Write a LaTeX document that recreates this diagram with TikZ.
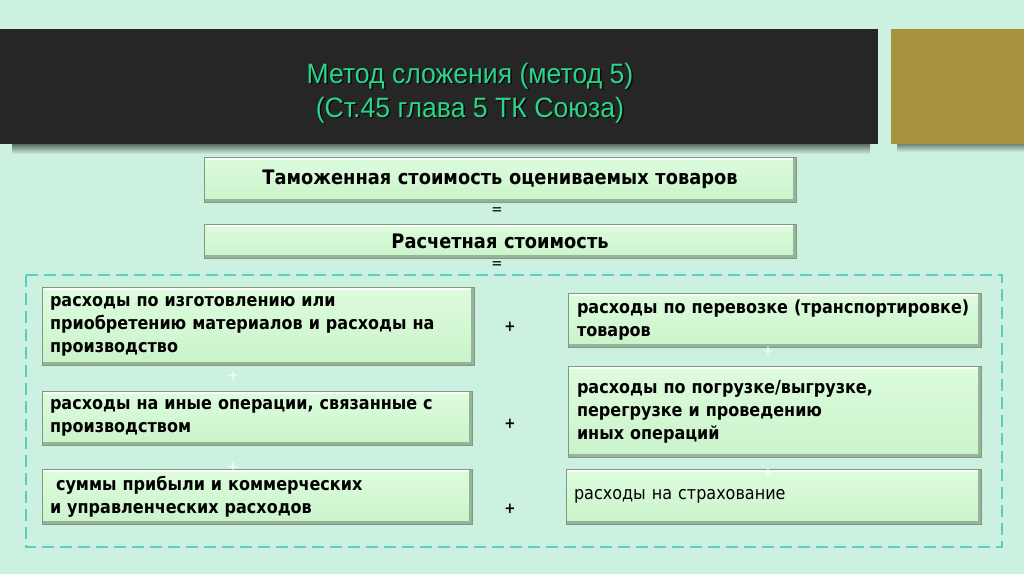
\documentclass[tikz,border=0pt]{standalone}
\usepackage{fontspec}
\newfontfamily\titlefont[FakeStretch=0.95]{Liberation Sans}
\newfontfamily\boxfont[FakeStretch=0.89]{DejaVu Sans}
\definecolor{bg}{HTML}{CDF1E1}
\definecolor{barblack}{HTML}{262626}
\definecolor{gold}{HTML}{A8913C}
\definecolor{titlegreen}{HTML}{2AD488}
\definecolor{boxtop}{HTML}{DDFCDD}
\definecolor{boxbot}{HTML}{CAF3CA}
\definecolor{boxedge}{HTML}{7E9A80}
\definecolor{boxshade}{HTML}{98B399}
\definecolor{frameteal}{HTML}{5ECDBD}
\tikzset{
  greenbox/.style={draw=boxedge, line width=1pt, top color=boxtop, bottom color=boxbot,
    inner xsep=8pt, inner ysep=0pt, align=left, font=\boxfont\bfseries\fontsize{18}{23}\selectfont,
    path picture={
      \draw[white, line width=2pt, opacity=0.9]
        ([yshift=-1.5pt]path picture bounding box.north west) -- ([yshift=-1.5pt]path picture bounding box.north east);
      \draw[boxshade, line width=3pt]
        ([xshift=-1.5pt]path picture bounding box.north east) -- ([xshift=-1.5pt]path picture bounding box.south east);
      \draw[boxshade, line width=3pt]
        ([yshift=1.5pt]path picture bounding box.south west) -- ([yshift=1.5pt]path picture bounding box.south east);
    }},
  sign/.style={font=\boxfont\bfseries\fontsize{15}{15}\selectfont, inner sep=0pt},
  faint/.style={font=\boxfont\bfseries\fontsize{14}{14}\selectfont, inner sep=0pt, text=white, text opacity=0.7},
  titletext/.style={font=\titlefont\fontsize{28}{34}\selectfont, inner sep=0pt, anchor=base},
  topfont/.style={font=\boxfont\bfseries\fontsize{20}{24}\selectfont}
}
\begin{document}
\begin{tikzpicture}[x=1pt,y=-1pt]
  \fill[bg] (0,0) rectangle (1024,574);
  \useasboundingbox (0,0) rectangle (1024,574);
  % title bar shadows
  \shade[top color=black!55!bg, bottom color=bg] (12,144) rectangle (870,154);
  \shade[top color=black!45!bg, bottom color=bg] (897,144) rectangle (1024,152);
  % title bar
  \fill[barblack] (0,29) rectangle (878,144);
  \fill[gold] (891,29) rectangle (1024,144);
  \node[titletext, text=black, text opacity=0.8] (t1s) at (471.5,84.5) {Метод сложения (метод 5)};
  \node[titletext, text=black, text opacity=0.8] (t2s) at (471.5,118.5) {(Ст.45 глава 5 ТК Союза)};
  \node[titletext, text=titlegreen] (t1) at (470,83) {Метод сложения (метод 5)};
  \node[titletext, text=titlegreen] (t2) at (470,117) {(Ст.45 глава 5 ТК Союза)};
  % top boxes
  \node[greenbox, topfont, align=center, minimum width=592pt, minimum height=45pt, text width=576pt] (tv) at (500,179.5)
        {Таможенная стоимость оцениваемых товаров};
  \node[sign, font=\boxfont\fontsize{15}{15}\selectfont] (eq1) at (497,211) {=};
  \node[greenbox, topfont, align=center, minimum width=592pt, minimum height=34pt, text width=576pt] (rs) at (500,241)
        {Расчетная стоимость};
  \node[sign, font=\boxfont\fontsize{15}{15}\selectfont] (eq2) at (497,265) {=};
  % dashed frame
  \draw[frameteal, line width=2.5pt, dash pattern=on 12pt off 6pt] (26,275) rectangle (1002,547);
  % left boxes
  \node[greenbox, minimum width=432pt, minimum height=78pt, text width=416pt] (l1) at (258,326)
    {расходы по изготовлению или\\приобретению материалов и расходы на\\производство};
  \node[greenbox, minimum width=430pt, minimum height=54pt, text width=414pt] (l2) at (257,418)
    {расходы на иные операции, связанные с\\производством};
  \node[greenbox, minimum width=430pt, minimum height=55pt, text width=414pt] (l3) at (257,496.5)
    {\ суммы прибыли и коммерческих\\и управленческих расходов};
  % right boxes
  \node[greenbox, minimum width=413pt, minimum height=54pt, text width=395pt, inner xsep=9pt] (r1) at (774.5,320)
    {расходы по перевозке (транспортировке)\\товаров};
  \node[greenbox, minimum width=413pt, minimum height=91pt, text width=395pt, inner xsep=9pt] (r2) at (774.5,411.5)
    {расходы по погрузке/выгрузке,\\перегрузке и проведению\\иных операций};
  \node[greenbox, minimum width=415pt, minimum height=55pt, text width=399pt,
        font=\boxfont\fontsize{18}{23}\selectfont] (r3) at (773.5,496.5)
    {расходы на страхование};
  % plus signs
  \node[sign] (p1) at (510,327) {+};
  \node[sign] (p2) at (510,424) {+};
  \node[sign] (p3) at (510,509) {+};
  \node[faint] (f1) at (233,376) {+};
  \node[faint] (f2) at (233,467) {+};
  \node[faint] (f3) at (768,351) {+};
  \node[faint] (f4) at (768,473) {+};
\end{tikzpicture}
\end{document}
